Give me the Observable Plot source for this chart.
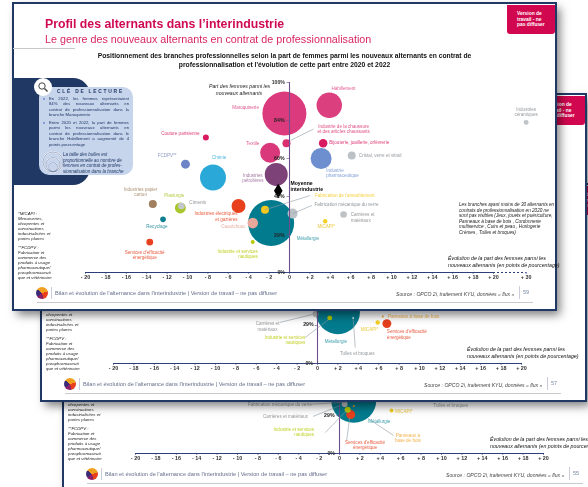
<!DOCTYPE html>
<html lang="fr">
<head>
<meta charset="utf-8">
<script src="https://cdn.jsdelivr.net/npm/d3@7"></script>
<script src="https://cdn.jsdelivr.net/npm/@observablehq/plot@0.6"></script>
<style>
html,body{margin:0;padding:0;background:#fff;width:588px;height:487px;overflow:hidden;font-family:"Liberation Sans",Arial,sans-serif}
#root{position:absolute;left:0;top:0;width:588px;height:487px;overflow:hidden;filter:blur(.4px)}
.slide{position:absolute;width:543px;height:307px;background:#fff;outline:2px solid #1f3864;outline-offset:-1px;box-shadow:4px 5px 9px rgba(0,0,0,.5)}
.slide svg{position:absolute;left:0;top:0;overflow:visible;background:transparent}
.abs{position:absolute;white-space:nowrap}
.tab{left:494px;top:2px;width:48px;height:29px;background:#d1074f;border-radius:0 0 3px 3px;color:#fff;font:bold 4.9px/5.6px "Liberation Sans";padding:6px 0 0 10px;box-sizing:border-box;white-space:pre}
.foot{color:#66708c;font-size:5.65px;line-height:7px}
.src{color:#444;font-size:5.1px;font-style:italic;line-height:7px}
.notes{font-size:4.35px;line-height:5px;color:#222;font-style:italic;white-space:pre}
.evo{font-size:5.25px;line-height:6.6px;color:#111;font-style:italic;white-space:pre}
#panel p{position:absolute;margin:0;font-size:4.25px;line-height:5.45px;color:#1f3864;text-align:justify;text-align-last:justify;white-space:normal}
</style>
</head>
<body>
<div id="root"></div>
<script>
// ---------- branch colours ----------
const branchColors = {
  "Maroquinerie":"#db3a7c","Habillement":"#dc3f7e","Chaussure":"#d92f6e","Textile":"#d9387a",
  "Bijouterie":"#d81b60","Pharmaceutique":"#6d8fd0","Cristal":"#bcc1c6","Pétrolières":"#7d4278",
  "Chimie":"#2aa9d9","FCDPV":"#6d84c6","Couture":"#d81b60","Papier":"#a0805f","Plasturgie":"#a9c62b",
  "Ciments":"#c4c7ca","Recyclage":"#0f8090","Services":"#e6401e","Électriques":"#e8401c",
  "Métallurgie":"#037b8e","Ameublement":"#f6c81d","Caoutchouc":"#e7a79a","Nautiques":"#b7c902",
  "Verre":"#bcc3c8","Carrières":"#bfc2c5","MICAPI":"#f3d026","Céramiques":"#bfc3c6",
  "Tulles":"#cfe6ef","Panneaux":"#f2a52a"
};
const labelColors = {...branchColors,"Cristal":"#858a90","Verre":"#7f868c","Carrières":"#82868a","Ciments":"#80858a",
  "Céramiques":"#84898e","Tulles":"#82878c","Caoutchouc":"#e39c8e","Pétrolières":"#955f90","FCDPV":"#7b8cbc",
  "MICAPI":"#e8c020","Métallurgie":"#1c8da0","Moyenne":"#000"};

// ---------- slide 59 (front) : bubbles ----------
const frontBranches  = ["Maroquinerie","Habillement","Chaussure","Textile","Bijouterie","Pharmaceutique","Cristal","Pétrolières","Chimie","FCDPV","Couture","Papier","Plasturgie","Ciments","Recyclage","Services","Électriques","Métallurgie","Ameublement","Caoutchouc","Nautiques","Verre","Carrières","MICAPI","Céramiques"];
const frontEvolution = [-0.5,3.9,-0.3,-1.9,3.3,3.1,6.1,-1.3,-7.5,-10.2,-8.2,-13.4,-10.7,-10.6,-12.4,-13.7,-5,-1.8,-2.4,-3.6,-3.6,0.3,5.3,3.5,23.2];
const frontShare     = [83.7,88,68,63,68,60,61.6,51.6,50,57,71,36,34,35,28,16,35,26,33,26,16,31,30.5,27,79];
const frontWomen     = [484,161,16,100,18,110,16,132,169,20,9,16,30,11,8,12,49,529,16,28,4,25,11,5,6];

// ---------- slide 57 (middle) : bubbles ----------
const middleBranches  = ["Métallurgie","Nautiques","Tulles","Carrières","MICAPI","Services","Panneaux"];
const middleEvolution = [2,1.2,3.5,-0.2,5.9,6.8,6.4];
const middleShare     = [27,24,24,26,21.6,21,24.7];
const middleWomen     = [484,6,1,9,5,20,1];

// ---------- slide 55 (back) : bubbles ----------
const backBranches  = ["Métallurgie","Carrières","Nautiques","Panneaux","Services","MICAPI"];
const backEvolution = [1.4,0.5,0.8,1.4,1.1,5.1];
const backShare     = [28,26,23,25,20.5,22.6];
const backWomen     = [506,9,9,1,20,4];

// ---------- labels ----------
const frontLabels = [
  ["Maroquinerie","Maroquinerie",-4.3,86.8,"middle"],["Habillement","Habillement",5.3,96.8,"middle"],
  ["Chaussure","Industrie de la chaussure\net des articles chaussants",5.3,75.8,"middle"],
  ["Bijouterie","Bijouterie, joaillerie, orfèvrerie",3.9,68.4,"start"],
  ["Cristal","Cristal, verre et vitrail",6.8,61.6,"start"],
  ["Pharmaceutique","Industrie\npharmaceutique",3.6,52.4,"start"],
  ["Textile","Textile",-3.6,67.9,"middle"],["Pétrolières","Industries\npétrolières",-3.6,50,"middle"],
  ["Couture","Couture parisienne",-10.7,73.2,"middle"],["FCDPV","FCDPV**",-12,61.6,"middle"],
  ["Chimie","Chimie",-6.9,60.5,"middle"],["Papier","Industries papier\ncarton",-14.6,42.4,"middle"],
  ["Plasturgie","Plasturgie",-11.3,40.5,"middle"],["Ciments","Ciments",-9,36.8,"middle"],
  ["Recyclage","Recyclage",-13,24.2,"middle"],["Services","Services d'efficacité\nénergétique",-14.2,9.2,"middle"],
  ["Électriques","Industries électriques\net gazières",-5.1,29.7,"end"],["Caoutchouc","Caoutchouc",-5.5,24.2,"middle"],
  ["Nautiques","Industrie et services\nnautiques",-3.1,10,"end"],
  ["Ameublement","Fabrication de l'ameublement",2.5,40.5,"start"],["Verre","Fabrication mécanique du verre",2.45,35.8,"start"],
  ["Carrières","Carrières et\nmatériaux",6,29,"start"],["MICAPI","MICAPI*",3.6,24.2,"middle"],
  ["Métallurgie","Métallurgie",1.8,17.9,"middle"],["Céramiques","Industries\ncéramiques",23.2,84.7,"middle"]
];
const middleLabels = [
  ["Carrières","Carrières et\nmatériaux",-4.9,19.5,"middle"],["Nautiques","Industrie et services\nnautiques",-1.2,12.4,"end"],
  ["Métallurgie","Métallurgie",1.8,11.6,"middle"],["Tulles","Tulles et broques",3.9,5.3,"middle"],
  ["MICAPI","MICAPI*",5.1,17.9,"middle"],["Services","Services d'efficacité\nénergétique",6.8,15.3,"start"],
  ["Panneaux","Panneaux à base de bois",6.9,24.7,"start"]
];
const backLabels = [
  ["Verre","Fabrication mécanique du verre",-2.7,25.8,"end"],["Carrières","Carrières et matériaux",-5.3,19.5,"middle"],
  ["Nautiques","Industrie et services\nnautiques",-2.5,11.3,"end"],["Métallurgie","Métallurgie",3.9,16.8,"middle"],
  ["Panneaux","Panneaux à\nbase de bois",6.7,8.2,"middle"],["Services","Services d'efficacité\nénergétique",2.5,4.5,"middle"],
  ["MICAPI","MICAPI*",6.3,22.1,"middle"],["Tulles","Tulles et broques",10.9,25.3,"middle"]
];
const frontLeaders  = [[0.1,69.5,2.35,75.5],[-2.4,33,2,40.5],[0.3,31,2.2,35.3]];
const middleLeaders = [[-3.7,21.6,-0.5,25.8],[-1.2,13.7,1.1,23.2],[3.7,8.4,3.5,23.7]];
const backLeaders   = [[-2.6,19.5,0.1,25.3],[-1.4,11,0.7,22.6],[2.8,18.4,5.3,9.5],[1,18.9,0.7,6.8],[-2.7,26,0.5,27]];

const frontPercents  = [["84%",-1,80],["60%",-1,60],["42%",-1,40],["29%",-1,19.5]];
const middlePercents = [["29%",-0.9,20.5]];
const backPercents   = [["29%",-1,20]];

// ---------- axes ----------
const gapTicks   = [-20,-18,-16,-14,-12,-10,-8,-6,-4,-2,0,2,4,6,8,10,12,14,16,18,20];
const shareTicks = [0,20,40,60,80,100];
const axisBreak  = 23.2;               // position of the broken "+ 30" tick on slide 59
const average    = {gap:-1.1, share:43};

const table = (names,x,y,women)=>names.map((branch,i)=>({branch,x:x[i],y:y[i],women:women[i]}));
const labelTable = rows=>rows.map(([branch,text,x,y,anchor])=>({branch,text,x,y,anchor}));
const linkTable  = rows=>rows.map(([x1,y1,x2,y2])=>({x1,y1,x2,y2}));

function chart({bubbles,labels,leaders,percents,front}){
  const lab = labelTable(labels);
  const textMark = a => Plot.text(lab.filter(d=>d.anchor===a),{x:"x",y:"y",text:"text",textAnchor:a,fontSize:4.55,lineHeight:1.2,fillOpacity:.85,
    fill:d=>labelColors[d.branch]});
  const ticks = front ? [...gapTicks,axisBreak] : gapTicks;
  return Plot.plot({
    width:543,height:307,marginLeft:72,marginRight:63,marginTop:79,marginBottom:38,
    style:{background:"transparent",fontFamily:"'Liberation Sans',Arial,sans-serif"},
    x:{domain:[-20,20]},
    y:{domain:[0,100]},
    r:{type:"sqrt",domain:[0,529],range:[0,23]},
    marks:[
      Plot.axisX({ticks,tickSize:1.6,tickPadding:1.5,fontSize:5.4,fontWeight:"bold",stroke:"#2b3f7a",fill:"#333",label:null,
        tickFormat:d=>d===axisBreak?"+ 30":d===0?"0":d>0?`+ ${d}`:`- ${-d}`}),
      Plot.axisY({ticks:[],label:null}),
      Plot.ruleY([0],{x1:-20,x2:20,stroke:"#2b3f7a",strokeWidth:1}),
      front?Plot.ruleY([0],{x1:20,x2:axisBreak,stroke:"#2b3f7a",strokeWidth:1,strokeDasharray:"2 2"}):null,
      Plot.dot(bubbles,{x:"x",y:"y",r:"women",fill:d=>branchColors[d.branch]}),
      Plot.ruleX([0],{y1:0,y2:100,stroke:"#6d4f8e",strokeWidth:1.1}),
      Plot.ruleY(shareTicks,{x1:0,x2:-0.25,stroke:"#6d4f8e",strokeWidth:.6}),
      Plot.link(linkTable(leaders),{x1:"x1",y1:"y1",x2:"x2",y2:"y2",stroke:"#8f9aa6",strokeWidth:.6}),
      front?Plot.dot([average],{x:"gap",y:"share",symbol:"diamond",r:4.5,fill:"#000"}):null,
      front?Plot.text(["Moyenne\ninterindustrie"],{x:0.1,y:45.5,textAnchor:"start",fontSize:5.1,fontWeight:"bold",lineHeight:1.1,fill:"#000"}):null,
      textMark("start"),textMark("middle"),textMark("end"),
      Plot.text(percents,{x:d=>d[1],y:d=>d[2],text:d=>d[0],fontSize:5.2,fontWeight:"bold",fill:"#222"}),
      Plot.text(shareTicks.filter(d=>d===0||(d===100&&front)).map(d=>({d})),{x:-0.45,y:"d",text:d=>d.d+"%",textAnchor:"end",fontSize:5.2,fontWeight:"bold",fill:"#333"})
    ]
  });
}

function el(parent,cls,css,html){
  const e=document.createElement("div");e.className=cls;Object.assign(e.style,css);if(html!=null)e.innerHTML=html;parent.appendChild(e);return e;
}

const tabText = "Version de\ntravail - ne\npas diffuser";
const footText = "Bilan et évolution de l'alternance dans l'interindustrie | Version de travail – ne pas diffuser";
const srcText = "Source : OPCO 2i, traitement KYU,  données « flux »";
const micapiNote = "*MICAPI :\nMenuiseries,\ncharpentes et\nconstructions\nindustrialisées et\nportes planes";
const fcdpvNote = "**FCDPV :\nFabrication et\ncommerce des\nproduits à usage\npharmaceutique/\nparapharmaceuti\nque et vétérinaire";
const evoText = "Évolution de la part des femmes parmi les\nnouveaux alternants (en points de pourcentage)";

function slide(dx,dy,z,page,evoLeft,width,tabLeft,opts){
  const s=el(document.getElementById("root"),"slide",{left:(13+dx)+"px",top:(3+dy)+"px",zIndex:z,width:width+"px"});
  s.appendChild(chart(opts));
  el(s,"abs tab",{left:tabLeft+"px"},tabText);
  el(s,"abs notes",{left:"5px",top:"207.5px"},micapiNote);
  el(s,"abs notes",{left:"5px",top:"241.5px"},fcdpvNote);
  el(s,"abs evo",{left:evoLeft+"px",top:"252px"},evoText);
  el(s,"abs",{left:"23px",top:"284px",width:"12px",height:"12px",borderRadius:"50%",
    background:"conic-gradient(#f0a020 0 20%,#e8401c 20% 45%,#8a1f6a 45% 65%,#3a2a78 65% 85%,#f0a020 85%)"});
  el(s,"abs",{left:"38px",top:"284px",width:"1px",height:"12px",background:"#ccd"});
  el(s,"abs foot",{left:"42px",top:"287px"},footText);
  el(s,"abs src",{left:"383px",top:"288px"},srcText);
  el(s,"abs",{left:"506px",top:"283px",width:"1px",height:"13px",background:"#ccd"});
  el(s,"abs",{left:"510px",top:"286px",fontSize:"5.5px",color:"#7a8aa6"},page);
  el(s,"abs",{left:"24px",top:"299px",width:"496px",height:"1px",background:"#c9c9c9"});
  return s;
}

const back = slide(50,181,1,"55",427,543,494,{bubbles:table(backBranches,backEvolution,backShare,backWomen),labels:backLabels,leaders:backLeaders,percents:backPercents,front:false});
const middle = slide(28,91,2,"57",426,545,496,{bubbles:table(middleBranches,middleEvolution,middleShare,middleWomen),labels:middleLabels,leaders:middleLeaders,percents:middlePercents,front:false});
const front = slide(0,0,3,"59",435,543,494,{bubbles:table(frontBranches,frontEvolution,frontShare,frontWomen),labels:frontLabels,leaders:frontLeaders,percents:frontPercents,front:true});

// ---------- front slide : titles and reading key ----------
el(front,"abs",{left:"32px",top:"15px",fontSize:"12.3px",fontWeight:"bold",color:"#cf0a52",lineHeight:"13px"},"Profil des alternants dans l’interindustrie");
el(front,"abs",{left:"32px",top:"29.5px",fontSize:"10.75px",color:"#d9265f",lineHeight:"13px"},"Le genre des nouveaux alternants en contrat de professionnalisation");
el(front,"abs",{left:"0",top:"45px",width:"62px",height:"1px",background:"#c8c8c8"});
el(front,"abs",{left:"0",width:"543px",top:"47.5px",textAlign:"center",fontSize:"6.75px",lineHeight:"9px",fontWeight:"bold",color:"#111",whiteSpace:"normal"},
  "Positionnement des branches professionnelles selon la part de femmes parmi les nouveaux alternants en contrat de<br>professionnalisation et l'évolution de cette part entre 2020 et 2022");
el(front,"abs",{left:"196px",top:"80px",width:"60px",textAlign:"center",fontSize:"5.15px",lineHeight:"6.6px",fontStyle:"italic",color:"#222"},"Part des femmes parmi les<br>nouveaux alternants");
el(front,"abs notes",{left:"446px",top:"199px",lineHeight:"5.55px",fontSize:"4.65px"},
  "Les branches ayant moins de 30 alternants en\ncontrats de professionnalisation en 2020 ne\nsont pas visibles (Jeux, jouets et puériculture,\nPanneaux à base de bois , Cordonnerie\nmultiservice , Cuirs et peau , Horlogerie\nCrèmes , Tulles et broques)");

el(front,"abs",{left:"1px",top:"75px",width:"76px",height:"107px",background:"#1f3864",borderRadius:"0 17px 17px 0"});
const panel = el(front,"abs",{left:"26px",top:"84px",width:"94px",height:"88px",background:"#c6d4ec",borderRadius:"10px"});
panel.id="panel";
el(front,"abs",{left:"21px",top:"75px",width:"18px",height:"18px",background:"#fff",borderRadius:"50%"},
  '<svg width="18" height="18" viewBox="0 0 18 18"><circle cx="8" cy="8" r="3.2" fill="none" stroke="#444" stroke-width="1"/><path d="M10.5 10.5L13.5 13.5" stroke="#444" stroke-width="1.4"/></svg>');
el(panel,"abs",{left:"18px",top:"1px",fontSize:"4.9px",lineHeight:"7px",fontWeight:"bold",letterSpacing:"1.75px",color:"#1f3864"},"CLÉ DE LECTURE");
const pw={left:"10px",width:"80px"};
[["En 2022, les femmes représentaient",9],["84% des nouveaux alternants en",14.4],["contrat de professionnalisation dans la",19.8],
 ["Entre 2020 et 2022, la part de femmes",33],["parmi les nouveaux alternants en",38.4],["contrat de professionnalisation dans le",43.8],["branche Habillement a augmenté de 4",49.2]
].forEach(([t,y])=>{const p=document.createElement("p");p.textContent=t;Object.assign(p.style,pw,{top:y+"px"});panel.appendChild(p);});
[["branche Maroquinerie",25.2],["points pourcentage",54.6]].forEach(([t,y])=>el(panel,"abs",{left:"10px",top:y+"px",fontSize:"4.25px",lineHeight:"5.45px",color:"#1f3864"},t));
[9,33].forEach(y=>el(panel,"abs",{left:"4px",top:(y+1.6)+"px",width:"2px",height:"2px",borderRadius:"50%",background:"#6f8fd0"}));
el(panel,"abs",{left:"3px",top:"64px",width:"22px",height:"22px"},
  '<svg width="22" height="22" viewBox="0 0 22 22" fill="none" stroke="#fff" stroke-width="1.3"><circle cx="11" cy="11" r="10"/><circle cx="11" cy="13.5" r="7"/><circle cx="11" cy="16" r="4.4"/><g stroke="#3a5288" stroke-width=".45"><circle cx="11" cy="11" r="10"/><circle cx="11" cy="13.5" r="7"/><circle cx="11" cy="16" r="4.4"/></g></svg>');
el(panel,"abs",{left:"24px",top:"65px",fontSize:"4.5px",lineHeight:"5.5px",fontStyle:"italic",color:"#1f3864"},
  "La taille des bulles est<br>proportionnelle au nombre de<br>femmes en contrat de profes-<br>sionnalisation dans la branche");
</script>
</body>
</html>
